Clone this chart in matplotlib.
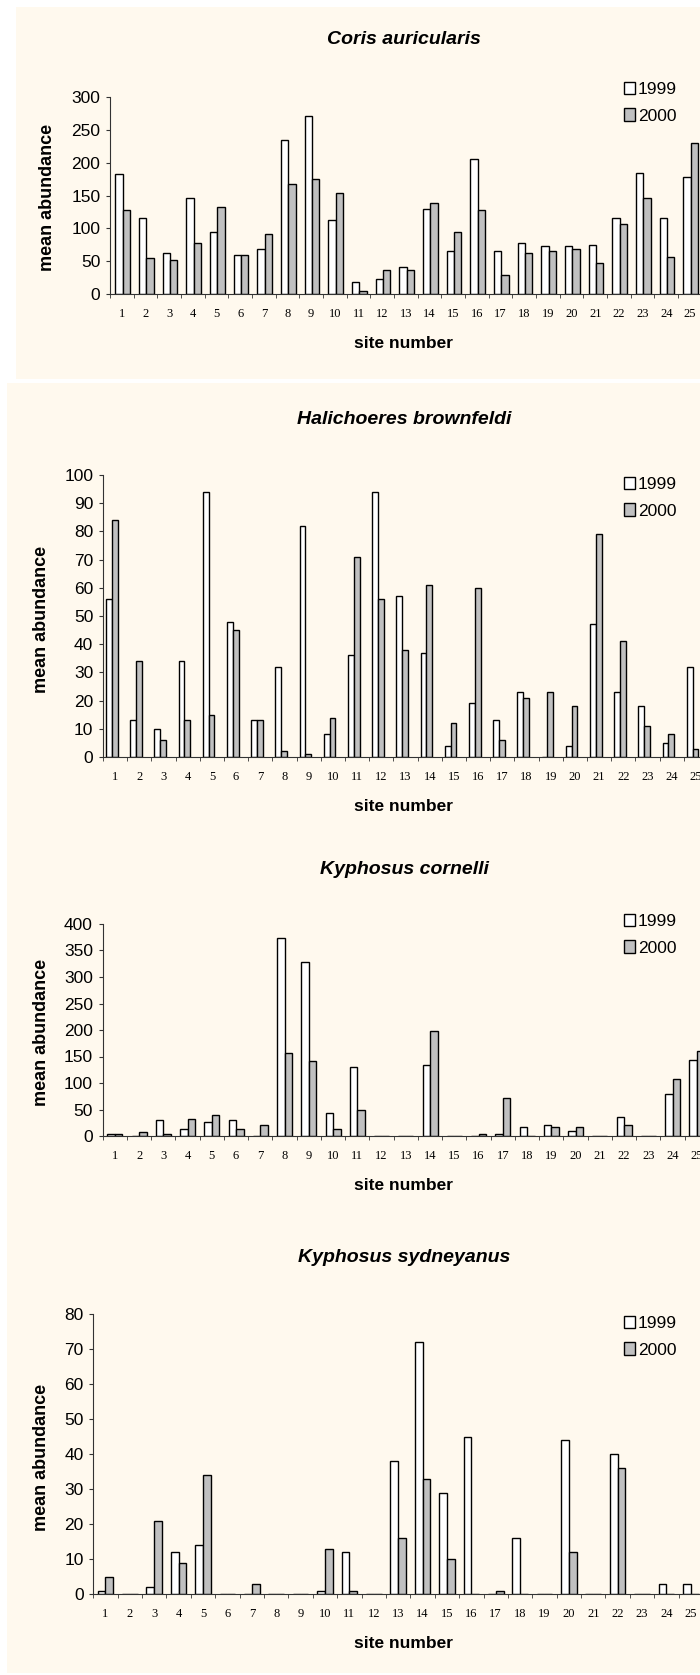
import numpy as np
import matplotlib
matplotlib.use("Agg")
import matplotlib.pyplot as plt
from matplotlib.patches import Rectangle, Patch

plt.rcParams['font.family'] = ['Liberation Sans', 'DejaVu Sans']

# site numbers 1..25
sites = list(range(1, 26))
site_labels = [str(s) for s in sites]
years = ['1999', '2000']

# Coris auricularis
coris_1999 = [182, 115, 62, 146, 94, 60, 68, 235, 271, 112, 18, 23, 41, 130, 65,
              206, 65, 78, 73, 73, 75, 115, 185, 115, 178]
coris_2000 = [128, 55, 52, 78, 133, 60, 91, 167, 175, 154, 5, 36, 36, 139, 94,
              128, 29, 63, 65, 68, 47, 107, 146, 57, 230]

# Halichoeres brownfeldi
hali_1999 = [56, 13, 10, 34, 94, 48, 13, 32, 82, 8, 36, 94, 57, 37, 4,
             19, 13, 23, 0, 4, 47, 23, 18, 5, 32]
hali_2000 = [84, 34, 6, 13, 15, 45, 13, 2, 1, 14, 71, 56, 38, 61, 12,
             60, 6, 21, 23, 18, 79, 41, 11, 8, 3]

# Kyphosus cornelli
corn_1999 = [4, 0, 30, 14, 27, 30, 0, 374, 329, 43, 130, 0, 0, 134, 0,
             0, 3, 17, 20, 10, 0, 36, 0, 79, 144]
corn_2000 = [4, 7, 4, 33, 40, 14, 20, 157, 141, 14, 50, 0, 0, 199, 0,
             4, 72, 0, 17, 17, 0, 20, 0, 108, 160]

# Kyphosus sydneyanus
syd_1999 = [1, 0, 2, 12, 14, 0, 0, 0, 0, 1, 12, 0, 38, 72, 29,
            45, 0, 16, 0, 44, 0, 40, 0, 3, 3]
syd_2000 = [5, 0, 21, 9, 34, 0, 3, 0, 0, 13, 1, 0, 16, 33, 10,
            0, 1, 0, 0, 12, 0, 36, 0, 0, 0]

W, H = 700, 1675
fig = plt.figure(figsize=(W / 100, H / 100), dpi=100)
fig.patch.set_facecolor('white')

cream = '#FFF9EE'


def fx(px):
    return px / W


def fy(py):
    return 1 - py / H


# cream backgrounds of the pasted chart images
fig.patches.append(Rectangle((fx(16), fy(379)), fx(W - 16), (379 - 7) / H,
                             transform=fig.transFigure, facecolor=cream,
                             edgecolor='none', zorder=-10))
fig.patches.append(Rectangle((fx(7), fy(1673)), fx(W - 7), (1673 - 383) / H,
                             transform=fig.transFigure, facecolor=cream,
                             edgecolor='none', zorder=-10))

panels = [
    dict(title='Coris auricularis', v99=coris_1999, v00=coris_2000, ymax=300, step=50,
         box=(110, 701.7, 97, 294), title_y=39, xlab_y=344, ylab=(48, 197), leg_y=93,
         w=0.31, off=0.03),
    dict(title='Halichoeres brownfeldi', v99=hali_1999, v00=hali_2000, ymax=100, step=10,
         box=(103, 708, 475, 757), title_y=419, xlab_y=807, ylab=(42, 619), leg_y=488,
         w=0.24, off=-0.14),
    dict(title='Kyphosus cornelli', v99=corn_1999, v00=corn_2000, ymax=400, step=50,
         box=(102.7, 709, 924, 1136), title_y=870, xlab_y=1185, ylab=(42, 1032), leg_y=925,
         w=0.31, off=0.0),
    dict(title='Kyphosus sydneyanus', v99=syd_1999, v00=syd_2000, ymax=80, step=10,
         box=(93.3, 703, 1314, 1594), title_y=1258, xlab_y=1643, ylab=(42, 1457), leg_y=1327,
         w=0.32, off=0.0),
]

gray = '#C0C0C0'
axis_col = '#333333'

for p in panels:
    l, r, t, b = p['box']
    ax = fig.add_axes([fx(l), fy(b), (r - l) / W, (b - t) / H])
    ax.patch.set_alpha(0)
    x = np.array(sites, dtype=float)
    w, off = p['w'], p['off']
    ax.bar(x + off - w / 2, p['v99'], w, color='white', edgecolor='black', linewidth=1.0)
    ax.bar(x + off + w / 2, p['v00'], w, color=gray, edgecolor='black', linewidth=1.0)

    ax.set_xlim(0.5, 25.5)
    ax.set_ylim(0, p['ymax'])
    ax.set_yticks(np.arange(0, p['ymax'] + 1, p['step']))
    ax.set_xticks(sites)
    ax.set_xticklabels(site_labels, fontfamily='Liberation Serif', fontsize=9)
    ax.set_xticks(np.arange(0.5, 25.6, 1), minor=True)
    ax.tick_params(axis='x', which='major', length=0, pad=10)
    ax.tick_params(axis='x', which='minor', length=3, direction='out', color=axis_col)
    ax.tick_params(axis='y', length=3, width=0.8, pad=4, labelsize=12.5, color=axis_col)
    for s in ['top', 'right']:
        ax.spines[s].set_visible(False)
    for s in ['left', 'bottom']:
        ax.spines[s].set_color(axis_col)
        ax.spines[s].set_linewidth(0.8)

    fig.text(fx(404), fy(p['title_y']), p['title'], ha='center', va='center',
             fontsize=14, fontweight='bold', fontstyle='italic')
    fig.text(fx(404), fy(p['xlab_y']), 'site number', ha='center', va='center',
             fontsize=12.5, fontweight='bold')
    fig.text(fx(p['ylab'][0]), fy(p['ylab'][1]), 'mean abundance', rotation=90,
             ha='center', va='center', fontsize=13, fontweight='bold')

    handles = [Patch(facecolor='white', edgecolor='black', linewidth=1.0),
               Patch(facecolor=gray, edgecolor='black', linewidth=1.0)]
    fig.legend(handles, years, loc='upper left',
               bbox_to_anchor=(fx(624), fy(p['leg_y'] - 11)),
               frameon=False, fontsize=12.5, handlelength=0.65, handleheight=0.7,
               handletextpad=0.15, labelspacing=0.65, borderpad=0, borderaxespad=0)

fig.savefig('out.png', dpi=100, facecolor=fig.get_facecolor())
